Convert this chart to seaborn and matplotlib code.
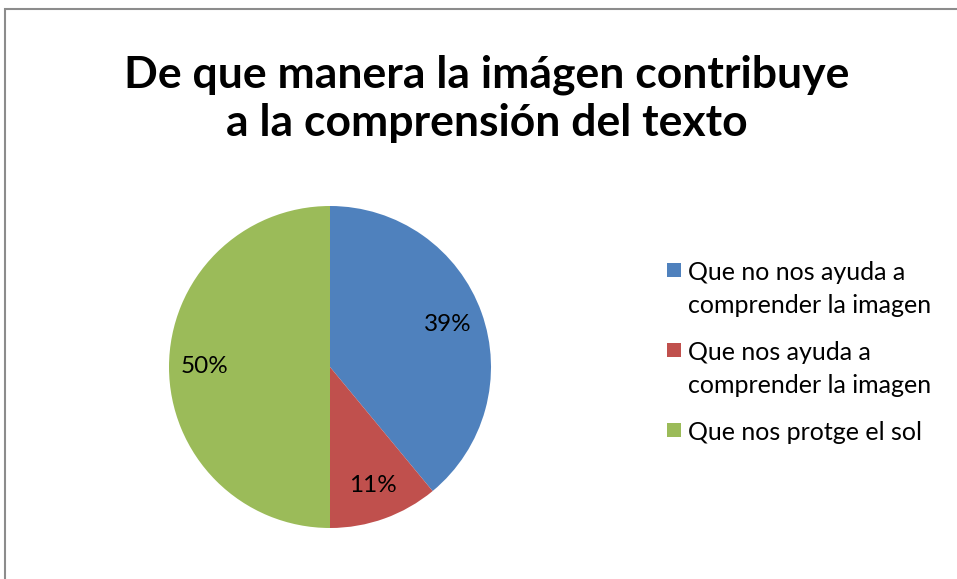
import matplotlib
matplotlib.use("Agg")
import matplotlib.pyplot as plt
import matplotlib.patches as mpatches
import seaborn as sns

# chart data
title = "De que manera la imágen contribuye\na la comprensión del texto"
categories = ["Que no nos ayuda a\ncomprender la imagen",
              "Que nos ayuda a\ncomprender la imagen",
              "Que nos protge el sol"]
values = [39, 11, 50]
colors = ["#4F81BD", "#C0504D", "#9BBB59"]

sns.set_theme(style="white")
plt.rcParams["font.family"] = ["Lato", "DejaVu Sans"]

W, H = 957, 579
fig = plt.figure(figsize=(W / 100, H / 100), dpi=100)
fig.patch.set_facecolor("white")

# chart frame (only left and top edges visible in the picture)
frame = mpatches.Rectangle((5 / W, -0.1), 1.2, 1.1 - 9 / H,
                           transform=fig.transFigure, fill=False,
                           edgecolor="#8c8c8c", linewidth=1.5)
fig.patches.append(frame)

ax = fig.add_axes([169 / W, 51 / H, 322 / W, 322 / H])
wedges, texts, autotexts = ax.pie(values, colors=colors, startangle=90,
                                  counterclock=False, autopct="%d%%",
                                  pctdistance=0.78,
                                  wedgeprops={"linewidth": 0},
                                  textprops={"fontsize": 17.5,
                                             "color": "black"})
ax.set_xlim(-1, 1)
ax.set_ylim(-1, 1)
ax.set_aspect("equal")

fig.text(487 / W, 1 - 99 / H, title, ha="center", va="center",
         fontsize=32, fontweight="bold", color="black", linespacing=1.23)

# legend drawn by hand so each square sits beside the first label line
line_px = 30
gap_px = 20
y = 272
for wedge, label in zip(wedges, categories):
    fig.patches.append(mpatches.Rectangle(
        (667 / W, 1 - (y + 5) / H), 14 / W, 14 / H,
        transform=fig.transFigure, facecolor=wedge.get_facecolor(),
        edgecolor="none"))
    fig.text(688 / W, 1 - (y - 11) / H, label, ha="left", va="top",
             fontsize=18, color="black", linespacing=1.55)
    y += line_px * (label.count("\n") + 1) + gap_px

fig.savefig("out.png", dpi=100)
